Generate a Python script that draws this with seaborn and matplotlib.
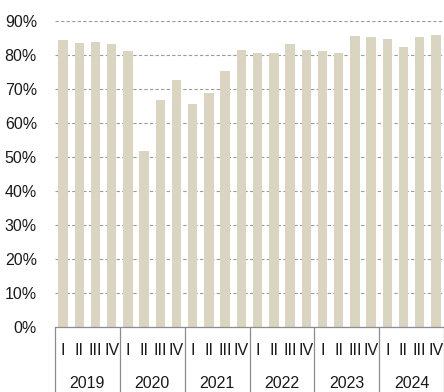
import matplotlib
matplotlib.use('Agg')
import matplotlib.pyplot as plt
import matplotlib.transforms as mtransforms
import numpy as np
import pandas as pd
import seaborn as sns

# Data (quarterly share, 2019 Q1 - 2024 Q4)
years = ['2019', '2020', '2021', '2022', '2023', '2024']
quarters = ['I', 'II', 'III', 'IV']
values = [84.4, 83.6, 83.9, 83.2,
          81.2, 51.7, 66.6, 72.7,
          65.7, 68.8, 75.3, 81.5,
          80.7, 80.6, 83.2, 81.5,
          81.2, 80.6, 85.6, 85.4,
          84.7, 82.4, 85.2, 85.8]

df = pd.DataFrame({
    'idx': np.arange(len(values)),
    'value': np.array(values) / 100,
    'quarter': quarters * len(years),
})

sns.set_style('white')
plt.rcParams['font.family'] = ['Liberation Sans', 'DejaVu Sans']

W, H = 444, 392
fig = plt.figure(figsize=(W / 100, H / 100), dpi=100)
left, right, top, bottom = 55, 444, 21, 326.7
ax = fig.add_axes([left / W, 1 - bottom / H, (right - left) / W, (bottom - top) / H])

sns.barplot(data=df, x='idx', y='value', color='#DAD5C0', saturation=1,
            width=0.58, ax=ax, edgecolor='none')

ax.set_xlim(-0.5, len(values) - 0.5)
ax.set_ylim(0, 0.9)
ax.set_yticks(np.arange(0, 0.91, 0.1))
ax.set_yticklabels([f'{int(round(v * 100))}%' for v in np.arange(0, 0.91, 0.1)])
ax.yaxis.grid(True, linestyle=(0, (3, 2)), color='#9a9a9a', linewidth=0.8)
ax.set_axisbelow(True)

ax.set_xticks(df['idx'])
ax.set_xticklabels(df['quarter'])
ax.tick_params(axis='x', length=0, pad=12, labelsize=11.5, colors='#1a1a1a')
ax.tick_params(axis='y', length=0, pad=13, labelsize=11.5, colors='#1a1a1a')
ax.set_xlabel('')
ax.set_ylabel('')

for s in ['top', 'right', 'left']:
    ax.spines[s].set_visible(False)
ax.spines['bottom'].set_color('#8c8c8c')
ax.spines['bottom'].set_linewidth(0.9)

# category table below the axis
trans = mtransforms.blended_transform_factory(ax.transData, ax.transAxes)
ah = bottom - top
for i in range(len(years) + 1):
    xpos = i * 4 - 0.5
    ax.plot([xpos, xpos], [0, -0.3], transform=trans, color='#8c8c8c',
            linewidth=0.9, clip_on=False)
for i, y in enumerate(years):
    ax.text(i * 4 + 1.5, -(383.5 - bottom) / ah, y, transform=trans,
            ha='center', va='center', fontsize=11.5, color='#1a1a1a')

fig.savefig('out.png', dpi=100)
